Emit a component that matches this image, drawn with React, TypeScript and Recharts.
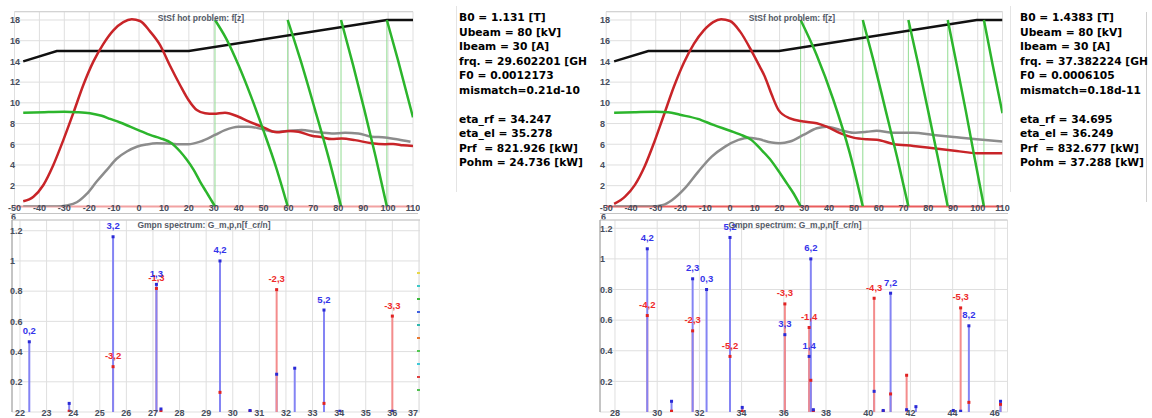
import React from 'react';
import {
  LineChart, Line, ComposedChart, Scatter, LabelList,
  XAxis, YAxis, CartesianGrid, ReferenceLine,
} from 'recharts';

type P = [number, number];

// axis ticks
const zTicks = [-50, -40, -30, -20, -10, 0, 10, 20, 30, 40, 50, 60, 70, 80, 90, 100, 110];
const fTicks = [0, 2, 4, 6, 8, 10, 12, 14, 16, 18];
const gTicks = [0, 0.2, 0.4, 0.6, 0.8, 1, 1.2];
const specTicksA = [22, 23, 24, 25, 26, 27, 28, 29, 30, 31, 32, 33, 34, 35, 36, 37];
const specTicksB = [28, 30, 32, 34, 36, 38, 40, 42, 44, 46];

// case A : B0 = 1.131 T
const blackA: P[] = [[-46.5, 14], [-33, 15], [20, 15], [99.5, 18], [110, 18]];
const redA: P[] = [
  [-46.5, 0.5], [-42.4, 0.94], [-38.4, 2.07], [-34.4, 4.0], [-30.4, 6.4], [-26.4, 9.0], [-22.4, 11.7],
  [-18.3, 14.0], [-14.3, 15.7], [-10.3, 17.0], [-6.3, 17.8], [-2.9, 18.06], [0.4, 17.9], [4.4, 16.9],
  [8.4, 15.6], [12.4, 13.6], [16.5, 11.7], [19.8, 10.3], [23.2, 9.3], [26.5, 9.0], [30, 8.95],
  [34.5, 9.05], [39.9, 8.66], [44, 8.2], [49.3, 7.7], [55.3, 7.15], [60, 7.28], [64, 7.2],
  [69.4, 6.83], [73, 6.7], [77.4, 6.5], [81.4, 6.55], [86.7, 6.4], [93.4, 6.09], [98.8, 6.0],
  [102, 6.03], [106, 5.9], [110, 5.83],
];
const grayA: P[] = [
  [-46.5, 0], [-33, 0], [-29, 0.1], [-25, 0.4], [-21, 1.2], [-17, 2.4], [-13, 3.5], [-9, 4.6],
  [-4.9, 5.3], [-0.9, 5.76], [3.1, 5.98], [7.1, 6.09], [11.1, 6.08], [15.1, 6.0], [19.8, 6.0],
  [24.5, 6.25], [30.5, 6.9], [34.5, 7.37], [39.9, 7.7], [43.9, 7.7], [49.3, 7.47], [54.6, 7.2],
  [60, 7.28], [65.3, 7.37], [70.7, 7.2], [77.4, 7.05], [82.7, 7.1], [88, 7.05], [93.4, 6.73],
  [98.8, 6.66], [104.1, 6.47], [109, 6.25],
];
const greenA: P[][] = [
  [[-46.5, 9.05], [-38, 9.1], [-30, 9.13], [-25, 9.1], [-19.7, 9.0], [-15, 8.75], [-11.6, 8.45],
    [-7.6, 8.1], [-3.6, 7.7], [0.4, 7.3], [4.4, 6.9], [8.4, 6.6], [13.1, 6.1], [16.5, 5.3],
    [19.2, 4.5], [22, 3.5], [24.5, 2.4], [27, 1.4], [28.5, 0.8], [30.5, 0]],
  [[30.5, 18], [35, 16.2], [40, 13.6], [45, 10.6], [50, 7.3], [55, 3.8], [59.7, 0]],
  [[59.7, 18], [65, 14.0], [70.7, 9.3], [76, 4.8], [81.1, 0]],
  [[81.1, 18], [86, 13.6], [90.5, 9.3], [95, 4.8], [99.5, 0]],
  [[99.5, 18], [104, 14.1], [110, 8.6]],
];

// case B : B0 = 1.4383 T
const blackB: P[] = [[-46.8, 14], [-33, 15], [19.8, 15], [99.6, 18], [110, 18]];
const redB: P[] = [
  [-46.8, 0.24], [-42.4, 0.95], [-38.4, 2.08], [-34.4, 3.9], [-30.6, 6.2], [-26.6, 8.9], [-22.6, 11.6],
  [-18.6, 13.9], [-14.6, 15.7], [-10.6, 17.0], [-6.8, 17.8], [-3.6, 18.06], [0, 17.9], [4, 16.9],
  [8.7, 15.0], [12, 13.5], [14.1, 12.5], [16.8, 10.8], [19.6, 9.3], [24.2, 8.5], [29.6, 8.2],
  [35, 8.03], [39, 7.7], [44.4, 7.07], [49.8, 6.64], [55.2, 6.48], [59.2, 6.44], [65.9, 6.03],
  [74, 5.84], [82.1, 5.62], [91.5, 5.36], [99.6, 5.13], [110, 5.13],
];
const grayB: P[] = [
  [-46.8, 0], [-32, 0], [-27, 0.15], [-23.5, 0.6], [-18.2, 1.76], [-12.8, 3.36], [-7.4, 4.8],
  [-2, 5.77], [3.4, 6.42], [7.4, 6.64], [11.4, 6.5], [16.8, 6.16], [20, 6.1], [24.2, 6.26],
  [29.6, 6.9], [35, 7.54], [39, 7.7], [44.4, 7.38], [49.8, 7.12], [55.2, 7.2], [59.2, 7.3],
  [65.9, 7.12], [74, 7.12], [82.1, 6.9], [91.5, 6.67], [99.6, 6.48], [110, 6.26],
];
const greenB: P[][] = [
  [[-46.8, 9.05], [-38, 9.1], [-30, 9.13], [-25, 9.1], [-20.2, 8.85], [-13, 8.45], [-6.7, 7.87],
    [0, 7.3], [4, 6.95], [8.7, 6.4], [12.1, 5.6], [16, 4.6], [20.2, 3.2], [23, 2.2], [25.6, 1.27],
    [28.5, 0]],
  [[28.5, 18], [35, 14.6], [41.7, 10.3], [48.4, 5.1], [53.6, 0]],
  [[53.6, 18], [58, 14.0], [62.8, 9.3], [67.5, 4.7], [72, 0]],
  [[72, 18], [76, 13.7], [80, 9.2], [84, 4.6], [87.9, 0]],
  [[87.9, 18], [91.5, 13.7], [95.2, 9.2], [98.8, 4.6], [102.5, 0]],
  [[102.5, 18], [106, 13.7], [110, 9.0]],
];

// Gmpn spectrum, case A
const freqA = [22.35, 23.85, 25.5, 27.13, 27.3, 29.52, 30.65, 31.65, 32.33, 33.43, 34.03, 36.0];
const blueA = [0.465, 0.057, 1.16, 0.845, 0.02, 1.0, 0.01, 0.25, 0.29, 0.675, 0.005, 0.005];
const redSpA = [0, 0.005, 0.3, 0.818, 0.005, 0.13, 0.005, 0.81, 0, 0.057, 0, 0.635];
const blueLblA = ['0,2', '', '3,2', '1,3', '', '4,2', '', '', '', '5,2', '', ''];
const redLblA = ['', '', '-3,2', '-1,3', '', '', '', '-2,3', '', '', '', '-3,3'];

// Gmpn spectrum, case B
const freqB = [29.53, 30.68, 31.68, 32.34, 33.45, 34.03, 36.05, 37.2, 37.28, 37.4, 40.28, 40.71,
  41.06, 41.82, 42.26, 44.03, 44.38, 44.77, 46.27];
const blueB = [1.066, 0.07, 0.87, 0.8, 1.14, 0.03, 0.505, 0.363, 1.0, 0.015, 0.135, 0.01,
  0.776, 0.015, 0.035, 0.01, 0.005, 0.563, 0.07];
const redSpB = [0.63, 0.005, 0.53, 0, 0.363, 0.005, 0.706, 0.552, 0.207, 0.005, 0.743, 0.005,
  0.118, 0.24, 0, 0, 0.68, 0.063, 0.05];
const blueLblB = ['4,2', '', '2,3', '0,3', '5,2', '', '3,3', '1,4', '6,2', '', '', '', '7,2', '', '',
  '', '', '8,2', ''];
const redLblB = ['-4,2', '', '-2,3', '', '-5,2', '', '-3,3', '-1,4', '', '', '-4,3', '', '', '', '',
  '', '-5,3', '', ''];

const infoA = ['B0 = 1.131 [T]', 'Ubeam = 80 [kV]', 'Ibeam = 30 [A]', 'frq. = 29.602201 [GH',
  'F0 = 0.0012173', 'mismatch=0.21d-10', '', 'eta_rf = 34.247', 'eta_el = 35.278',
  'Prf  = 821.926 [kW]', 'Pohm = 24.736 [kW]'];
const infoB = ['B0 = 1.4383 [T]', 'Ubeam = 80 [kV]', 'Ibeam = 30 [A]', 'frq. = 37.382224 [GH',
  'F0 = 0.0006105', 'mismatch=0.18d-11', '', 'eta_rf = 34.695', 'eta_el = 36.249',
  'Prf  = 832.677 [kW]', 'Pohm = 37.288 [kW]'];

// bits of a cut-off legend at the right edge of the left spectrum
const legendBits = ['#e8d84a', '#3cc8c8', '#3cb83c', '#4060e0', '#30b8b0', '#e87830', '#50c850', '#40c8d8', '#e04040', '#50c050'];

const AX_FONT = "Arial, 'Liberation Sans', sans-serif";
const pts = (a: P[]) => a.map(([z, v]) => ({ z, v }));
const fmt = (v: number) => String(Math.round(v * 10) / 10);

// axes get 1px so recharts still draws their ticks
const XTick = (p: any) => (
  <text x={Math.min(p.x, p.maxX ?? 9999)} y={p.y + p.off} textAnchor="middle" fontSize={9} fontWeight="bold"
    fill="#464d5c" fontFamily={AX_FONT}>{fmt(p.payload.value)}</text>
);
const YTick = (p: any) =>
  p.payload.value === 0 ? <g /> : (
    <text x={10} y={p.y + 3.3} textAnchor="start" fontSize={9} fontWeight="bold"
      fill="#464d5c" fontFamily={AX_FONT}>{fmt(p.payload.value)}</text>
  );

const thick = { dot: false, isAnimationActive: false, strokeWidth: 2.5 } as const;

function ZPlot({ left, ml, mr, black, red, gray, green, base, titleX }: any) {
  const segs = green as P[][];
  const jumps = segs.slice(1).map((s, i) => [segs[i][segs[i].length - 1], s[0]] as P[]);
  return (
    <div style={{ position: 'absolute', left, top: 0 }}>
      <LineChart width={420} height={216} margin={{ top: 11.7, right: mr, bottom: 8.6, left: ml - 1 }}>
        <CartesianGrid stroke="#dfdfdf" />
        <XAxis type="number" dataKey="z" domain={[-50, 110]} ticks={zTicks} interval={0} height={1}
          tickSize={0} tickMargin={0} axisLine={false} tickLine={false} allowDataOverflow
          tick={(p: any) => <XTick {...p} off={4.5} />} />
        <YAxis type="number" domain={[0, 18.8]} ticks={fTicks} interval={0} width={1}
          tickSize={0} tickMargin={0} axisLine={false} tickLine={false} allowDataOverflow
          tick={(p: any) => <YTick {...p} />} />
        <ReferenceLine y={18.8} stroke="#cfcfcf" />
        <ReferenceLine y={0} stroke={base} strokeWidth={2} />
        {jumps.map((j, i) => (
          <Line key={'j' + i} data={pts(j)} dataKey="v" type="linear" stroke="#92dc92"
            strokeWidth={1} dot={false} isAnimationActive={false} />
        ))}
        <Line data={pts(black)} dataKey="v" type="linear" stroke="#111111" {...thick} />
        <Line data={pts(gray)} dataKey="v" type="monotone" stroke="#8c8c8c" {...thick} />
        <Line data={pts(red)} dataKey="v" type="monotone" stroke="#c82428" {...thick} />
        {segs.map((s, i) => (
          <Line key={'g' + i} data={pts(s)} dataKey="v" type="monotone" stroke="#2cb52c" {...thick} />
        ))}
      </LineChart>
      <div style={{ position: 'absolute', left: titleX, top: 12.5, transform: 'translateX(-50%)',
        font: `bold 8.5px ${AX_FONT}`, color: '#555b68', whiteSpace: 'nowrap', lineHeight: '11px' }}>
        StSf hot problem: f[z]
      </div>
    </div>
  );
}

const square = (c: string) => (p: any) => (
  <rect x={p.cx - 1.5} y={p.cy - 1.5} width={3} height={3} fill={c} />
);

function Spectrum({ left, ml, mr, domain, ticks, yMax, freq, blue, red, blueLbl, redLbl, titleX }: any) {
  const stems = (freq as number[]).flatMap((x, i) =>
    [{ x, y: blue[i], c: '#8484f4' }, { x, y: red[i], c: '#f48c8c' }]
      .filter((s) => s.y > 0)
      .sort((a, b) => a.y - b.y));
  const bluePts = (freq as number[]).map((x, i) => ({ x, y: blue[i], label: blueLbl[i] })).filter((p) => p.y > 0);
  const redPts = (freq as number[]).map((x, i) => ({ x, y: red[i], label: redLbl[i] })).filter((p) => p.y > 0);
  return (
    <div style={{ position: 'absolute', left, top: 214 }}>
      <ComposedChart width={420} height={204} margin={{ top: 6, right: mr, bottom: 5, left: ml - 1 }}>
        <CartesianGrid stroke="#dfdfdf" />
        <XAxis type="number" dataKey="x" domain={domain} ticks={ticks} interval={0} height={1}
          tickSize={0} tickMargin={0} axisLine={false} tickLine={false} allowDataOverflow
          tick={(p: any) => <XTick {...p} off={4} maxX={413} />} />
        <YAxis type="number" dataKey="y" domain={[0, yMax]} ticks={gTicks} interval={0} width={1}
          tickSize={0} tickMargin={0} axisLine={false} tickLine={false} allowDataOverflow
          tick={(p: any) => <YTick {...p} />} />
        <ReferenceLine y={yMax} stroke="#c8c8c8" />
        <ReferenceLine x={domain[0]} stroke="#9a9a9a" />
        {stems.map((s, i) => (
          <ReferenceLine key={i} segment={[{ x: s.x, y: 0 }, { x: s.x, y: s.y }]} stroke={s.c} strokeWidth={2} />
        ))}
        <Scatter data={redPts} dataKey="y" shape={square('#e02222')} isAnimationActive={false}>
          <LabelList dataKey="label" position="top" offset={3} fill="#ee2a2a" fontSize={9.5}
            fontWeight="bold" fontFamily={AX_FONT} />
        </Scatter>
        <Scatter data={bluePts} dataKey="y" shape={square('#2a2ad6')} isAnimationActive={false}>
          <LabelList dataKey="label" position="top" offset={3} fill="#3434ea" fontSize={9.5}
            fontWeight="bold" fontFamily={AX_FONT} />
        </Scatter>
      </ComposedChart>
      <div style={{ position: 'absolute', left: titleX, top: 5.5, transform: 'translateX(-50%)',
        font: `bold 8.5px ${AX_FONT}`, color: '#555b68', whiteSpace: 'nowrap', lineHeight: '11px' }}>
        Gmpn spectrum: G_m,p,n[f_cr/n]
      </div>
    </div>
  );
}

function Info({ left, lines }: { left: number; lines: string[] }) {
  return (
    <div style={{ position: 'absolute', left, top: 11, font: "bold 10.7px 'DejaVu Sans', sans-serif",
      lineHeight: '14.5px', color: '#000', whiteSpace: 'pre' }}>
      {lines.map((l, i) => <div key={i}>{l || '\u00a0'}</div>)}
    </div>
  );
}

function Strip({ left }: { left: number }) {
  return (
    <>
      <div style={{ position: 'absolute', left: left + 10, top: 213, width: 408, height: 1, background: '#c4c4c4' }} />
      <div style={{ position: 'absolute', left: left + 11, top: 212, font: `bold 9px ${AX_FONT}`,
        color: '#464d5c', lineHeight: '10px' }}>6</div>
    </>
  );
}

export default function App() {
  return (
    <div style={{ position: 'absolute', left: 0, top: 0, width: 1152, height: 418, background: '#fff', overflow: 'hidden' }}>
      <Strip left={0} />
      <Strip left={590} />
      <ZPlot left={0} ml={14.5} mr={7} black={blackA} red={redA} gray={grayA} green={greenA}
        base="#f2a2a2" titleX={201} />
      <ZPlot left={590} ml={16.2} mr={7.5} black={blackB} red={redB} gray={grayB} green={greenB}
        base="#ea5c5c" titleX={202} />
      <Spectrum left={0} ml={12} mr={0} domain={[21.7, 37.04]} ticks={specTicksA} yMax={1.271}
        freq={freqA} blue={blueA} red={redSpA} blueLbl={blueLblA} redLbl={redLblA} titleX={204} />
      <Spectrum left={590} ml={10} mr={2.5} domain={[27.29, 46.6]} ticks={specTicksB} yMax={1.254}
        freq={freqB} blue={blueB} red={redSpB} blueLbl={blueLblB} redLbl={redLblB} titleX={205} />
      {legendBits.map((c, i) => (
        <div key={i} style={{ position: 'absolute', left: 417, top: 272 + i * 13, width: 3, height: 2, background: c }} />
      ))}
      <div style={{ position: 'absolute', left: 456, top: 6, width: 1, height: 186, background: '#e4e4e4' }} />
      <div style={{ position: 'absolute', left: 1010, top: 6, width: 1, height: 186, background: '#e4e4e4' }} />
      <div style={{ position: 'absolute', left: 1146, top: 12, width: 1, height: 190, background: '#d0d0d0' }} />
      <Info left={459} lines={infoA} />
      <Info left={1020} lines={infoB} />
    </div>
  );
}
